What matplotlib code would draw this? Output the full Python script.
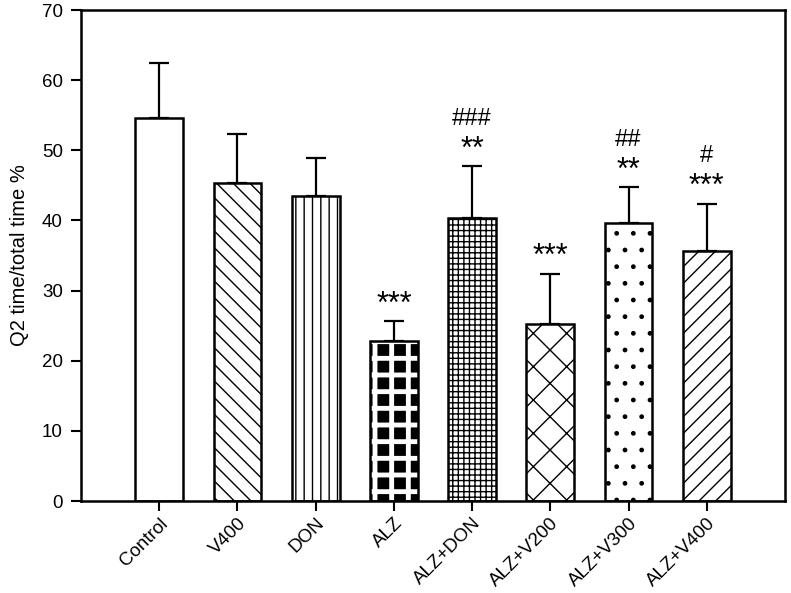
import matplotlib
matplotlib.use("Agg")
import matplotlib.pyplot as plt
import numpy as np

plt.rcParams["font.family"] = ["Liberation Sans", "DejaVu Sans"]

groups = ["Control", "V400", "DON", "ALZ", "ALZ+DON", "ALZ+V200", "ALZ+V300", "ALZ+V400"]
means = [54.6, 45.3, 43.5, 22.8, 40.3, 25.3, 39.6, 35.6]
sems = [7.9, 7.0, 5.4, 2.8, 7.4, 7.1, 5.1, 6.8]
stars = ["", "", "", "***", "**", "***", "**", "***"]
hashes = ["", "", "", "", "###", "", "##", "#"]

hatches = [None, "\\\\", "||", "+", "+++", "x", ".", "//"]

fig = plt.figure(figsize=(7.91, 5.93), dpi=100)
ax = fig.add_axes([0.1024, 0.1551, 0.890, 0.828])

x = np.arange(len(groups))
width = 0.61

for i in range(len(groups)):
    if groups[i] == "ALZ":
        # black field with a white checker-like hatch
        b = ax.bar(x[i], means[i], width, color="black", edgecolor="white",
                   hatch=hatches[i], linewidth=0, zorder=2)
        for p in b.patches:
            if hasattr(p, "set_hatch_linewidth"):
                p.set_hatch_linewidth(3.5)
        ax.bar(x[i], means[i], width, fill=False, edgecolor="black",
               linewidth=1.8, zorder=3)
    else:
        ax.bar(x[i], means[i], width, color="white", edgecolor="black",
               hatch=hatches[i], linewidth=1.8, zorder=2)

ax.errorbar(x, means, yerr=[np.zeros(len(sems)), sems], fmt="none",
            ecolor="black", elinewidth=1.6, capsize=7, capthick=1.6, zorder=1)

for i in range(len(groups)):
    top = means[i] + sems[i]
    if stars[i]:
        ax.text(x[i], top + 2.4, stars[i], ha="center", va="center", fontsize=22)
    if hashes[i]:
        ax.text(x[i], top + 6.8, hashes[i], ha="center", va="center", fontsize=17)

ax.set_xlim(-1.0, 8.0)
ax.set_ylim(0, 70)
ax.set_yticks(range(0, 71, 10))
ax.tick_params(axis="y", labelsize=13.5, direction="out", length=7, width=1.5, pad=6)
ax.set_xticks(x)
ax.set_xticklabels(groups, rotation=45, ha="right", rotation_mode="anchor", fontsize=13.5)
ax.tick_params(axis="x", direction="out", length=7, width=1.5, pad=3)
ax.set_ylabel("Q2 time/total time %", fontsize=14.5, labelpad=9)

for sp in ax.spines.values():
    sp.set_linewidth(1.8)

fig.savefig("out.png", dpi=100)
